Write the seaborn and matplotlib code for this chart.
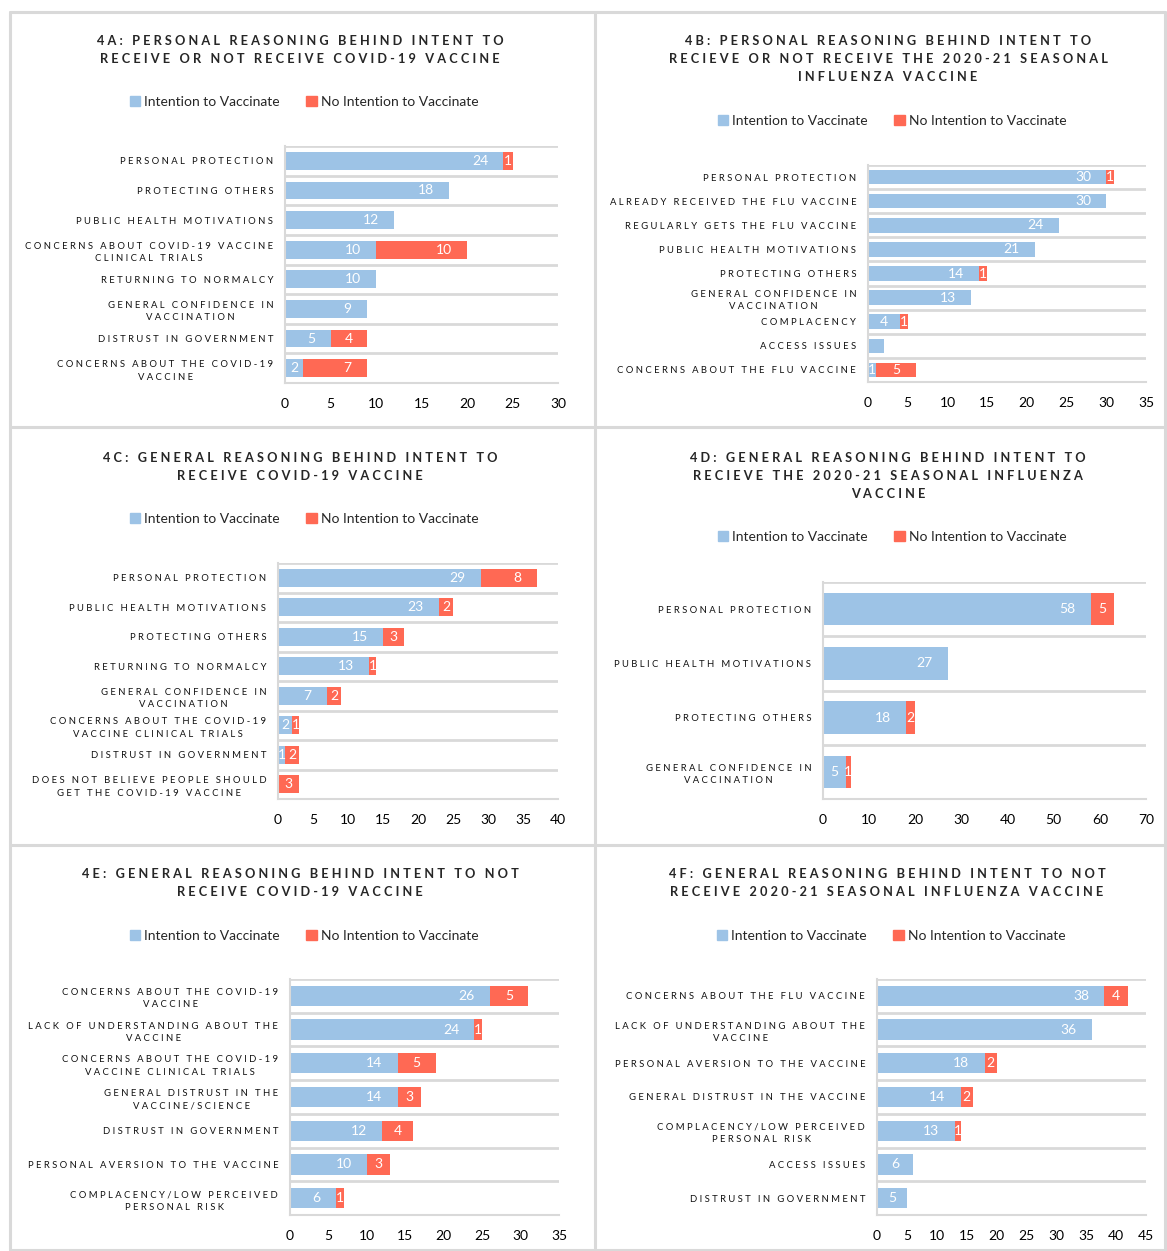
import matplotlib
matplotlib.use("Agg")
import matplotlib.pyplot as plt
import seaborn as sns
from matplotlib.lines import Line2D
from matplotlib.patches import Patch

# %% data
a_cats = ["PERSONAL PROTECTION", "PROTECTING OTHERS", "PUBLIC HEALTH MOTIVATIONS",
          "CONCERNS ABOUT COVID-19 VACCINE\nCLINICAL TRIALS", "RETURNING TO NORMALCY",
          "GENERAL CONFIDENCE IN\nVACCINATION", "DISTRUST IN GOVERNMENT",
          "CONCERNS ABOUT THE COVID-19\nVACCINE"]
a_yes = [24, 18, 12, 10, 10, 9, 5, 2]
a_no = [1, 0, 0, 10, 0, 0, 4, 7]

b_cats = ["PERSONAL PROTECTION", "ALREADY RECEIVED THE FLU VACCINE",
          "REGULARLY GETS THE FLU VACCINE", "PUBLIC HEALTH MOTIVATIONS",
          "PROTECTING OTHERS", "GENERAL CONFIDENCE IN\nVACCINATION", "COMPLACENCY",
          "ACCESS ISSUES", "CONCERNS ABOUT THE FLU VACCINE"]
b_yes = [30, 30, 24, 21, 14, 13, 4, 2, 1]
b_no = [1, 0, 0, 0, 1, 0, 1, 0, 5]
b_unlabelled = ["ACCESS ISSUES"]

c_cats = ["PERSONAL PROTECTION", "PUBLIC HEALTH MOTIVATIONS", "PROTECTING OTHERS",
          "RETURNING TO NORMALCY", "GENERAL CONFIDENCE IN\nVACCINATION",
          "CONCERNS ABOUT THE COVID-19\nVACCINE CLINICAL TRIALS", "DISTRUST IN GOVERNMENT",
          "DOES NOT BELIEVE PEOPLE SHOULD\nGET THE COVID-19 VACCINE"]
c_yes = [29, 23, 15, 13, 7, 2, 1, 0]
c_no = [8, 2, 3, 1, 2, 1, 2, 3]

d_cats = ["PERSONAL PROTECTION", "PUBLIC HEALTH MOTIVATIONS", "PROTECTING OTHERS",
          "GENERAL CONFIDENCE IN\nVACCINATION"]
d_yes = [58, 27, 18, 5]
d_no = [5, 0, 2, 1]

e_cats = ["CONCERNS ABOUT THE COVID-19\nVACCINE", "LACK OF UNDERSTANDING ABOUT THE\nVACCINE",
          "CONCERNS ABOUT THE COVID-19\nVACCINE CLINICAL TRIALS",
          "GENERAL DISTRUST IN THE\nVACCINE/SCIENCE", "DISTRUST IN GOVERNMENT",
          "PERSONAL AVERSION TO THE VACCINE", "COMPLACENCY/LOW PERCEIVED\nPERSONAL RISK"]
e_yes = [26, 24, 14, 14, 12, 10, 6]
e_no = [5, 1, 5, 3, 4, 3, 1]

f_cats = ["CONCERNS ABOUT THE FLU VACCINE", "LACK OF UNDERSTANDING ABOUT THE\nVACCINE",
          "PERSONAL AVERSION TO THE VACCINE", "GENERAL DISTRUST IN THE VACCINE",
          "COMPLACENCY/LOW PERCEIVED\nPERSONAL RISK", "ACCESS ISSUES", "DISTRUST IN GOVERNMENT"]
f_yes = [38, 36, 18, 14, 13, 6, 5]
f_no = [4, 0, 2, 2, 1, 0, 0]

titles = {
    "A": "4A: PERSONAL REASONING BEHIND INTENT TO\nRECEIVE OR NOT RECEIVE COVID-19 VACCINE",
    "B": "4B: PERSONAL REASONING BEHIND INTENT TO\nRECIEVE OR NOT RECEIVE THE 2020-21 SEASONAL\nINFLUENZA VACCINE",
    "C": "4C: GENERAL REASONING BEHIND INTENT TO\nRECEIVE COVID-19 VACCINE",
    "D": "4D: GENERAL REASONING BEHIND INTENT TO\nRECIEVE THE 2020-21 SEASONAL INFLUENZA\nVACCINE",
    "E": "4E: GENERAL REASONING BEHIND INTENT TO NOT\nRECEIVE COVID-19 VACCINE",
    "F": "4F: GENERAL REASONING BEHIND INTENT TO NOT\nRECEIVE 2020-21 SEASONAL INFLUENZA VACCINE",
}
legend_labels = ["Intention to Vaccinate", "No Intention to Vaccinate"]

BLUE = "#9dc3e6"
RED = "#ff6954"
GRID = "#d9d9d9"

# %% layout (pixel boxes)
W, H = 1167, 1251
panels = [
    # key, cats, yes, no, skip, title centre x, title top y, legend y, plot box, xmax, step
    ("A", a_cats, a_yes, a_no, [], 300, 35, 102, (285, 146, 558, 383), 30, 5),
    ("B", b_cats, b_yes, b_no, b_unlabelled, 888, 35, 121, (868, 165, 1146, 382), 35, 5),
    ("C", c_cats, c_yes, c_no, [], 300, 452, 519, (278, 563, 558, 799), 40, 5),
    ("D", d_cats, d_yes, d_no, [], 888, 452, 537, (823, 582, 1146, 799), 70, 10),
    ("E", e_cats, e_yes, e_no, [], 300, 868, 936, (290, 979, 559, 1215), 35, 5),
    ("F", f_cats, f_yes, f_no, [], 887, 868, 936, (877, 979, 1146, 1215), 45, 5),
]


def spread(s, gap=" "):
    # imitate the wide letter spacing of the original
    return "\n".join(gap.join(line) for line in s.split("\n"))


sns.set_style("white")
plt.rcParams["font.family"] = ["Lato", "DejaVu Sans"]

fig = plt.figure(figsize=(W / 100, H / 100), dpi=100)

# panel frames
for x in (10, 595, 1165):
    fig.add_artist(Line2D([x / W, x / W], [1 - 12 / H, 1 - 1250 / H], color=GRID, lw=2.2,
                          transform=fig.transFigure))
for y in (12, 427, 845, 1250):
    fig.add_artist(Line2D([10 / W, 1165 / W], [1 - y / H, 1 - y / H], color=GRID, lw=2.2,
                          transform=fig.transFigure))

for key, cats, yes, no, skip, tx, ty, ly, (x0, y0, x1, y1), xmax, step in panels:
    ax = fig.add_axes([x0 / W, 1 - y1 / H, (x1 - x0) / W, (y1 - y0) / H])
    total = [a + b for a, b in zip(yes, no)]
    labels = [spread(c) for c in cats]

    sns.barplot(x=total, y=labels, orient="h", color=RED, saturation=1, width=0.6,
                linewidth=0, ax=ax)
    sns.barplot(x=yes, y=labels, orient="h", color=BLUE, saturation=1, width=0.6,
                linewidth=0, ax=ax)

    n = len(cats)
    ax.set_xlim(0, xmax)
    ax.set_ylim(n - 0.5, -0.5)
    ax.set_xticks(range(0, xmax + 1, step))
    ax.set_xlabel("")
    ax.set_ylabel("")
    for k in range(n):
        ax.axhline(k - 0.5, color=GRID, lw=2, zorder=0)

    for s in ("top", "right"):
        ax.spines[s].set_visible(False)
    for s in ("left", "bottom"):
        ax.spines[s].set_color(GRID)
        ax.spines[s].set_linewidth(1.5)
    ax.tick_params(axis="x", length=3, width=1.2, color=GRID, pad=7.5, labelsize=10,
                   labelcolor="#000000")
    ax.tick_params(axis="y", length=0, pad=8.5, labelsize=6.8, labelcolor="#111111")
    for t in ax.get_yticklabels():
        t.set_multialignment("center")
        t.set_linespacing(1.5)

    # value labels, Excel style "inside end"
    px_per_unit = (x1 - x0) / xmax
    for i, (a, b) in enumerate(zip(yes, no)):
        for start, v in ((0, a), (a, b)):
            if v == 0 or (start == 0 and cats[i] in skip):
                continue
            seg_px = v * px_per_unit
            lab_px = 7 * len(str(v))
            if seg_px >= lab_px + 30:
                ax.annotate(str(v), xy=(start + v, i), xytext=(-11, 0),
                            textcoords="offset points", ha="right", va="center",
                            color="white", fontsize=10, annotation_clip=False, clip_on=True)
            else:
                ax.annotate(str(v), xy=(start + v / 2, i), ha="center", va="center",
                            color="white", fontsize=10, clip_on=True)

    fig.text(tx / W, 1 - ty / H, spread(titles[key]), ha="center", va="top",
             fontsize=9.2, fontweight="bold", linespacing=1.58)

    handles = [Patch(color=BLUE), Patch(color=RED)]
    lx = (tx + 4) / W
    fig.legend(handles, legend_labels, loc="center", bbox_to_anchor=(lx, 1 - ly / H),
               ncol=2, frameon=False, fontsize=10, handlelength=0.75, handleheight=0.75,
               handletextpad=0.3, columnspacing=1.9, borderpad=0)

fig.savefig("out.png", dpi=100)
